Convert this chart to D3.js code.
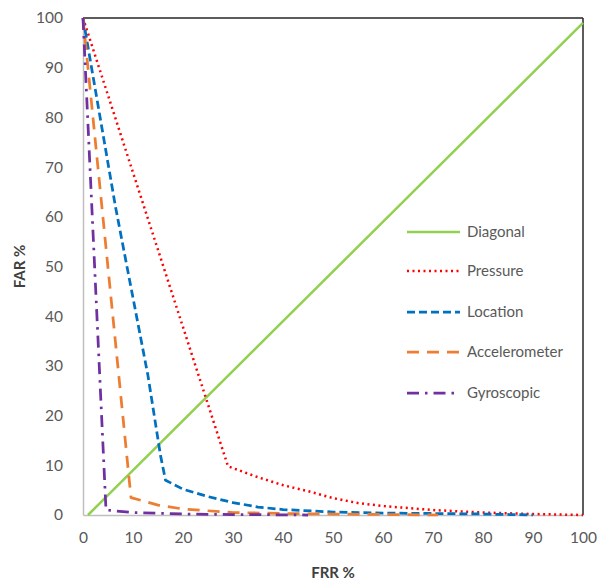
<!DOCTYPE html>
<html><head><meta charset="utf-8">
<script src="https://cdn.jsdelivr.net/npm/d3@7"></script>
<style>body{margin:0;background:#fff}svg{display:block}</style>
</head><body>
<svg id="c" width="598" height="581"></svg>
<script>
const xTicks = [0,10,20,30,40,50,60,70,80,90,100];
const yTicks = [0,10,20,30,40,50,60,70,80,90,100];
const seriesNames = ["Diagonal","Pressure","Location","Accelerometer","Gyroscopic"];
const diagonalFRR = [1,100];
const diagonalFAR = [0,99];
const pressureFRR = [0,29,35,40,45,50,55,60,70,80,90,100];
const pressureFAR = [100,9.8,7.6,6,4.8,3.4,2.4,1.8,1,0.5,0.2,0];
const locationFRR = [0,6.5,13,15.5,16.5,20,25,30,35,40,50,60,70,80,90];
const locationFAR = [100,62,28,12,7,5.2,3.7,2.5,1.6,1.1,0.6,0.4,0.3,0.2,0];
const accelFRR = [0,9.6,15,20,30,40,50,60,71];
const accelFAR = [100,3.5,2,1.2,0.5,0.3,0.2,0.1,0];
const gyroFRR = [0,4.6,10,20,30,45];
const gyroFAR = [100,1,0.5,0.2,0.1,0];

const styles = [
  {color:"#92D050", dash:null, width:2.5},
  {color:"#FF0000", dash:"2,3.5", width:2.5},
  {color:"#0070C0", dash:"8,4", width:2.75},
  {color:"#ED7D31", dash:"12,8", width:2.75},
  {color:"#7030A0", dash:"12,6,2.5,6", width:2.75}
];
const seriesData = [
  [diagonalFRR, diagonalFAR],
  [pressureFRR, pressureFAR],
  [locationFRR, locationFAR],
  [accelFRR, accelFAR],
  [gyroFRR, gyroFAR]
];

const svg = d3.select("#c");
const L=83, R=583, T=18, B=515;
const x = d3.scaleLinear().domain([0,100]).range([L,R]);
const y = d3.scaleLinear().domain([0,100]).range([B,T]);
const font = "Lato, 'Open Sans', sans-serif";

svg.append("line").attr("x1",L).attr("x2",R).attr("y1",T).attr("y2",T).attr("stroke","#262626").attr("stroke-width",1.5);
svg.append("line").attr("x1",R).attr("x2",R).attr("y1",T).attr("y2",B).attr("stroke","#262626").attr("stroke-width",1.5);

const xa = svg.append("g").attr("transform",`translate(0,${B})`)
  .call(d3.axisBottom(x).tickValues(xTicks).tickSize(0).tickPadding(17));
const ya = svg.append("g").attr("transform",`translate(${L},0)`)
  .call(d3.axisLeft(y).tickValues(yTicks).tickSize(0).tickPadding(20));
[xa,ya].forEach(a=>{
  a.select(".domain").attr("stroke","#BFBFBF").attr("stroke-width",1.5);
  a.selectAll("text").attr("fill","#595959").attr("font-size",15.5).attr("font-family",font);
});

const line = d3.line().x(d=>x(d[0])).y(d=>y(d[1]));
seriesData.forEach((s,i)=>{
  const pts = s[0].map((v,j)=>[v,s[1][j]]);
  const p = svg.append("path").datum(pts).attr("d",line).attr("fill","none")
    .attr("stroke",styles[i].color).attr("stroke-width",styles[i].width)
    .attr("stroke-linejoin","round");
  if(styles[i].dash) p.attr("stroke-dasharray",styles[i].dash);
});

const legY = [232,271,312,352,393];
seriesNames.forEach((n,i)=>{
  const g = svg.append("g");
  const l = g.append("line").attr("x1",407).attr("x2",460).attr("y1",legY[i]).attr("y2",legY[i])
    .attr("stroke",styles[i].color).attr("stroke-width",styles[i].width);
  if(styles[i].dash) l.attr("stroke-dasharray",styles[i].dash);
  g.append("text").attr("x",467).attr("y",legY[i]).attr("dy","0.35em")
    .attr("fill","#595959").attr("font-size",15).attr("font-family",font).text(n);
});

svg.append("text").attr("x",(L+R)/2).attr("y",578).attr("text-anchor","middle")
  .attr("fill","#404040").attr("font-size",15).attr("font-weight","bold").attr("font-family",font).text("FRR %");
svg.append("text").attr("transform",`translate(25,${(T+B)/2}) rotate(-90)`).attr("text-anchor","middle")
  .attr("fill","#404040").attr("font-size",15).attr("font-weight","bold").attr("font-family",font).text("FAR %");
</script>
</body></html>
